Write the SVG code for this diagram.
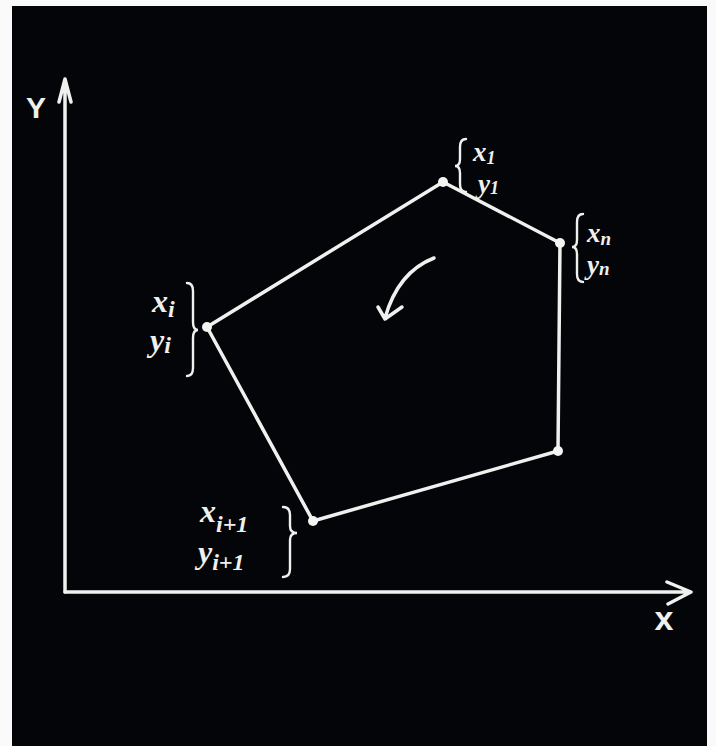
<svg xmlns="http://www.w3.org/2000/svg" width="716" height="746" viewBox="0 0 716 746">
<defs>
<style>
.ln{stroke:#f0f0ee;stroke-width:3.5;fill:none;stroke-linecap:round;stroke-linejoin:round}
.br{stroke:#f0f0ee;stroke-width:2.4;fill:none;stroke-linecap:round}
.dot{fill:#f4f4f2}
.t{font-family:"Liberation Serif","DejaVu Serif",serif;font-style:italic;font-weight:bold;fill:#f0f0ee;font-size:32px}
.t2{font-size:27px}
.s{font-size:24px}
.ax{font-family:"Liberation Sans","DejaVu Sans",sans-serif;fill:#f0f0ee;font-size:30px}
</style>
</defs>
<rect x="0" y="0" width="716" height="746" fill="#fafafa"/>
<rect x="12" y="6" width="695" height="740" fill="#030508"/>
<g id="axes">
<path class="ln" d="M65,592 L65,80 M59,102 L65,79 L71,102"/>
<path class="ln" d="M65,592 L690,592 M667,582 L691,592 L668,604"/>
<text class="ax" x="36" y="118" text-anchor="middle" style="font-weight:bold">Y</text>
<text class="ax" x="664" y="630" text-anchor="middle" style="font-size:34px;font-weight:bold">x</text>
</g>
<g id="connectors">
<polygon class="ln" points="443,182 560,243 558,451 313,521 207,327"/>
<path class="ln" d="M434,258 Q398,272 385,318 M378,307 L385,319 L402,307"/>
</g>
<g id="v1">
<circle class="dot" cx="443" cy="182" r="5"/>
<path class="br" d="M466,139 Q460,139 460,147 L460,159 Q460,166 455,166 Q460,166 460,173 L460,184 Q460,192 466,192"/>
<text class="t t2" x="473" y="161">x<tspan dy="3" style="font-size:18px">1</tspan></text>
<text class="t t2" x="478" y="193">y<tspan dy="1" style="font-size:18px">1</tspan></text>
</g>
<g id="vn">
<circle class="dot" cx="560" cy="243" r="5"/>
<path class="br" d="M583,214 Q577,214 577,222 L577,240 Q577,247 572,247 Q577,247 577,254 L577,274 Q577,282 583,282"/>
<text class="t t2" x="587" y="242">x<tspan dy="3" style="font-size:19px">n</tspan></text>
<text class="t t2" x="587" y="274">y<tspan dy="1" style="font-size:19px">n</tspan></text>
</g>
<g id="vlast">
<circle class="dot" cx="558" cy="451" r="5"/>
</g>
<g id="vi">
<circle class="dot" cx="207" cy="327" r="5"/>
<path class="br" d="M187,283 Q193,283 193,291 L193,322 Q193,330 198,330 Q193,330 193,338 L193,368 Q193,376 187,376"/>
<text class="t" x="152" y="312">x<tspan class="s" dy="5">i</tspan></text>
<text class="t" x="150" y="351">y<tspan class="s" dy="2">i</tspan></text>
</g>
<g id="vi1">
<circle class="dot" cx="313" cy="521" r="5"/>
<path class="br" d="M283,507 Q290,507 290,515 L290,526 Q290,533 297,533 Q290,533 290,540 L290,569 Q290,577 283,577"/>
<text class="t" x="200" y="522">x<tspan class="s" dy="10">i+1</tspan></text>
<text class="t" x="198" y="563">y<tspan class="s" dy="7">i+1</tspan></text>
</g>
</svg>
